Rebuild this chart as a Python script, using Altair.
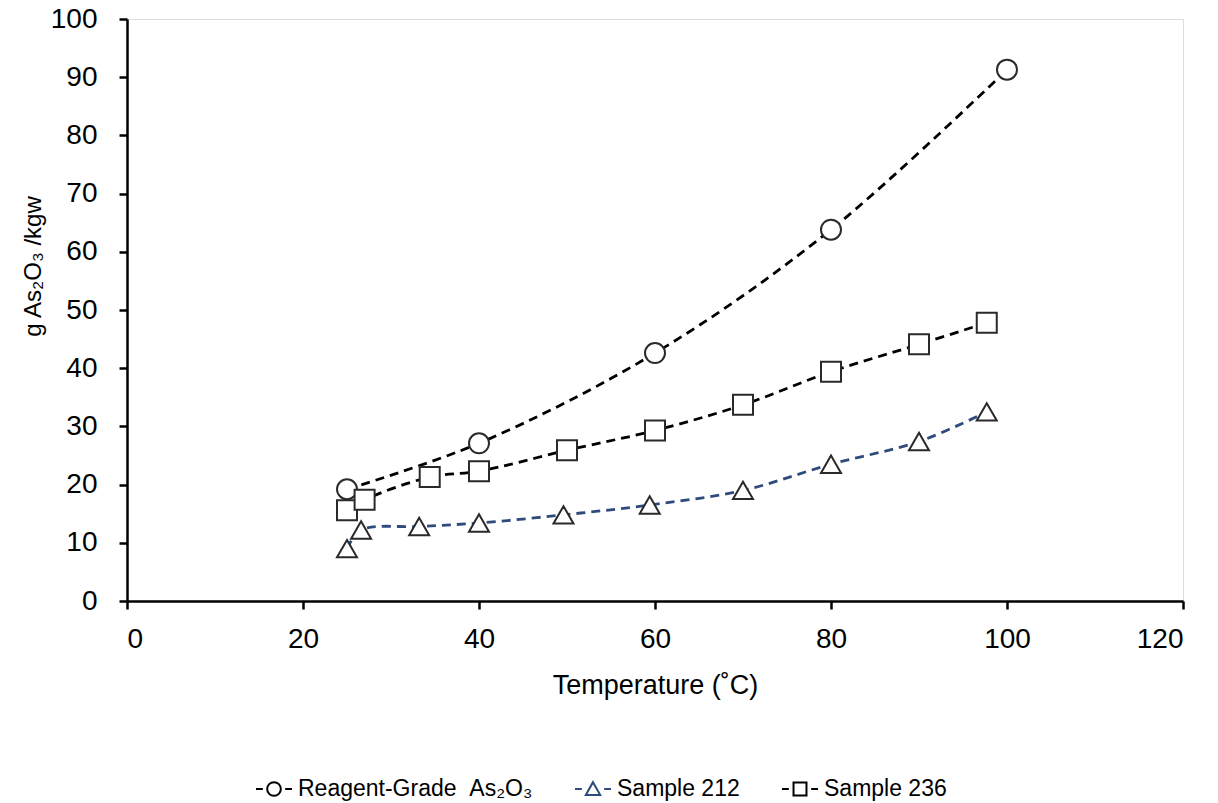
import altair as alt
import pandas as pd

series_names = ["Reagent-Grade\u00a0\u00a0As₂O₃", "Sample 212", "Sample 236"]

reagent_t = [25, 40, 60, 80, 100]
reagent_g = [19.2, 27.1, 42.6, 63.8, 91.3]

s212_t = [25, 26.6, 33.2, 40, 49.6, 59.4, 70, 80, 90, 97.7]
s212_g = [9.0, 12.2, 12.8, 13.4, 14.8, 16.5, 19.0, 23.5, 27.4, 32.5]

s236_t = [25, 27, 34.4, 40, 50, 60, 70, 80, 90, 97.7]
s236_g = [15.6, 17.4, 21.3, 22.3, 25.9, 29.3, 33.7, 39.4, 44.1, 47.8]

x_ticks = [0, 20, 40, 60, 80, 100, 120]
y_ticks = [0, 10, 20, 30, 40, 50, 60, 70, 80, 90, 100]

line_colors = ["#000000", "#2F4B7C", "#000000"]
marker_shapes = ["circle", "triangle-up", "square"]
legend_shapes = [
    "M-1,0L-0.62,0M0.62,0L1,0M-0.38,0A0.38,0.38,0,1,0,0.38,0A0.38,0.38,0,1,0,-0.38,0",
    "M-1,0L-0.62,0M0.62,0L1,0M0,-0.38L0.4,0.33L-0.4,0.33Z",
    "M-1,0L-0.62,0M0.62,0L1,0M-0.36,-0.36L0.36,-0.36L0.36,0.36L-0.36,0.36Z",
]

rows = []
for name, ts, gs in zip(series_names, [reagent_t, s212_t, s236_t], [reagent_g, s212_g, s236_g]):
    for i, (t, g) in enumerate(zip(ts, gs)):
        rows.append({"series": name, "T": t, "g": g, "order": i})
df = pd.DataFrame(rows)

FONT = "Liberation Sans"

x_enc = alt.X(
    "T:Q",
    scale=alt.Scale(domain=[0, 120], nice=False, zero=False),
    axis=alt.Axis(
        values=x_ticks,
        title="Temperature (˚C)",
        grid=False,
        domainColor="black",
        domainWidth=2.5,
        tickColor="black",
        tickWidth=2.5,
        tickSize=8,
        labelFont=FONT,
        labelFontSize=28,
        labelColor="black",
        labelPadding=16,
        titleFont=FONT,
        titleFontSize=27,
        titleFontWeight="normal",
        titleColor="black",
        titleY=71,
        titleBaseline="top",
    ),
)
y_enc = alt.Y(
    "g:Q",
    scale=alt.Scale(domain=[0, 100], nice=False),
    axis=alt.Axis(
        values=y_ticks,
        title="g As₂O₃ /kgw",
        grid=False,
        domainColor="black",
        domainWidth=2.5,
        tickColor="black",
        tickWidth=2.5,
        tickSize=8,
        labelFont=FONT,
        labelFontSize=28,
        labelColor="black",
        labelPadding=22,
        titleFont=FONT,
        titleFontSize=24,
        titleFontWeight="normal",
        titleColor="black",
        titleAngle=270,
        titleX=-94,
        titleY=247,
        titleAlign="center",
        titleBaseline="middle",
    ),
)

base = alt.Chart(df)

lines = base.mark_line(
    strokeDash=[9, 6], strokeWidth=2.8, interpolate="catmull-rom"
).encode(
    x=x_enc,
    y=y_enc,
    stroke=alt.Stroke("series:N", scale=alt.Scale(domain=series_names, range=line_colors), legend=None),
    order="order:Q",
)

points = base.mark_point(
    filled=False, fill="white", fillOpacity=1, stroke="#2a2a2a", strokeWidth=2, size=400, opacity=1
).encode(
    x="T:Q",
    y="g:Q",
    shape=alt.Shape("series:N", scale=alt.Scale(domain=series_names, range=marker_shapes), legend=None),
)

legend_props = dict(
    title=None,
    orient="none",
    direction="horizontal",
    legendX=128,
    legendY=751,
    symbolSize=1296,
    symbolStrokeWidth=2,
    symbolOpacity=1,
    labelFont=FONT,
    labelFontSize=23,
    labelColor="black",
    labelOffset=5,
    columnPadding=38,
    labelLimit=400,
)

# Layer that only carries the legend: its marks are pushed outside the clipped view.
legend_layer = (
    base.transform_calculate(hidden="datum.g - 1000")
    .mark_point(filled=False, opacity=1, strokeWidth=2, clip=True)
    .encode(
        x="T:Q",
        y=alt.Y("hidden:Q"),
        shape=alt.Shape(
            "series:N",
            scale=alt.Scale(domain=series_names, range=legend_shapes),
            legend=alt.Legend(**legend_props),
        ),
        stroke=alt.Stroke(
            "series:N",
            scale=alt.Scale(domain=series_names, range=line_colors),
            legend=alt.Legend(**legend_props),
        ),
    )
)

chart = (
    alt.layer(lines, points, legend_layer)
    .resolve_scale(shape="independent", stroke="independent")
    .properties(
        width=1056,
        height=582,
        autosize=alt.AutoSizeParams(type="none"),
        padding={"left": 127, "top": 19, "right": 35, "bottom": 202},
    )
    .configure_view(stroke=None)
    .configure(background="white")
)

chart.save("out.html", embed_options={"renderer": "svg", "actions": False})
